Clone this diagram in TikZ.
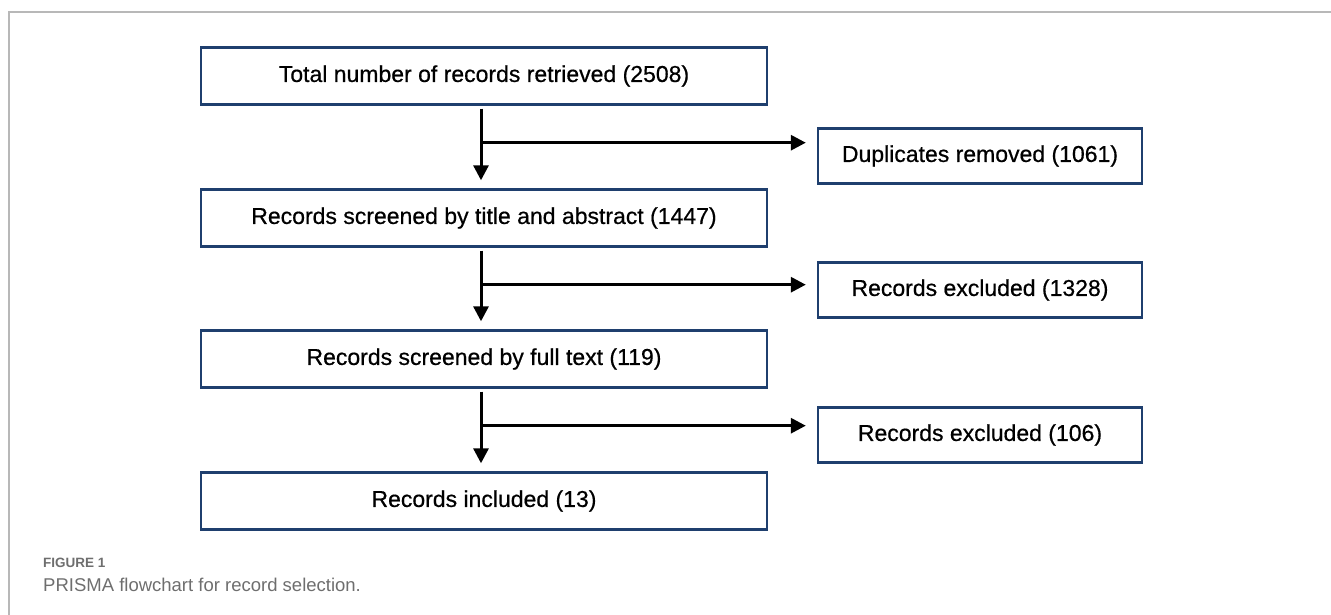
\documentclass[tikz,border=0pt]{standalone}
\usepackage{fontspec}
\setmainfont{Liberation Sans}
\newfontfamily\boxfont[FakeBold=0.6]{Liberation Sans}
\usepackage{xcolor}
\usetikzlibrary{arrows.meta}
\definecolor{boxblue}{HTML}{1F3F6E}
\definecolor{capgray}{HTML}{6E6E6E}

\begin{document}
\begin{tikzpicture}[x=1pt,y=-1pt]
        \tikzstyle{stage}=[rectangle,draw=boxblue,line width=2.4pt,
        inner sep=0pt,minimum width=566pt,minimum height=57pt,font=\boxfont\fontsize{23}{27}\selectfont]
        \tikzstyle{removed}=[rectangle,draw=boxblue,line width=2.4pt,
        inner sep=0pt,minimum width=324pt,minimum height=55pt,font=\boxfont\fontsize{23}{27}\selectfont]
        \tikzstyle{flow}=[line width=3pt,black,-{Triangle[length=15pt,width=15pt]}]
        \useasboundingbox (0,0) rectangle (1331,615);
        \draw[line width=1.2pt, black!28] (9,615) -- (9,12) -- (1331,12);
        \node at (484, 76) [stage] (label1) {Total number of records retrieved (2508)};
        \node at (484,218) [stage] (label2) {Records screened by title and abstract (1447)};
        \node at (484,359) [stage] (label3) {Records screened by full text (119)};
        \node at (484,501) [stage] (label4) {Records included (13)};
        \node at (980,156) [removed] (out1) {Duplicates removed (1061)};
        \node at (980,290) [removed] (out2) {Records excluded (1328)};
        \node at (980,435) [removed] (out3) {Records excluded (106)};
        \coordinate (fork1) at ([xshift=-3pt,yshift=-37pt]label1.south);
        \coordinate (fork2) at ([xshift=-3pt,yshift=-37pt]label2.south);
        \coordinate (fork3) at ([xshift=-3pt,yshift=-37pt]label3.south);
        \draw[flow, shorten <=3pt, shorten >=8pt] ([xshift=-3pt]label1.south) -- ([xshift=-3pt]label2.north);
        \draw[flow, shorten <=3pt, shorten >=8pt] ([xshift=-3pt]label2.south) -- ([xshift=-3pt]label3.north);
        \draw[flow, shorten <=3pt, shorten >=8pt] ([xshift=-3pt]label3.south) -- ([xshift=-3pt]label4.north);
        \draw[flow, shorten >=11pt] (fork1) -- (fork1 -| out1.west);
        \draw[flow, shorten >=11pt] (fork2) -- (fork2 -| out2.west);
        \draw[flow, shorten >=11pt] (fork3) -- (fork3 -| out3.west);
        % caption
        \node[anchor=base west, inner sep=0pt, text=capgray, font=\bfseries\fontsize{13.5}{16}\selectfont] (fig) at (43,567) {FIGURE 1};
        \node[anchor=base west, inner sep=0pt, text=capgray, font=\fontsize{18.5}{22}\selectfont] (caption) at (43,591) {PRISMA flowchart for record selection.};
      \end{tikzpicture}
\end{document}
